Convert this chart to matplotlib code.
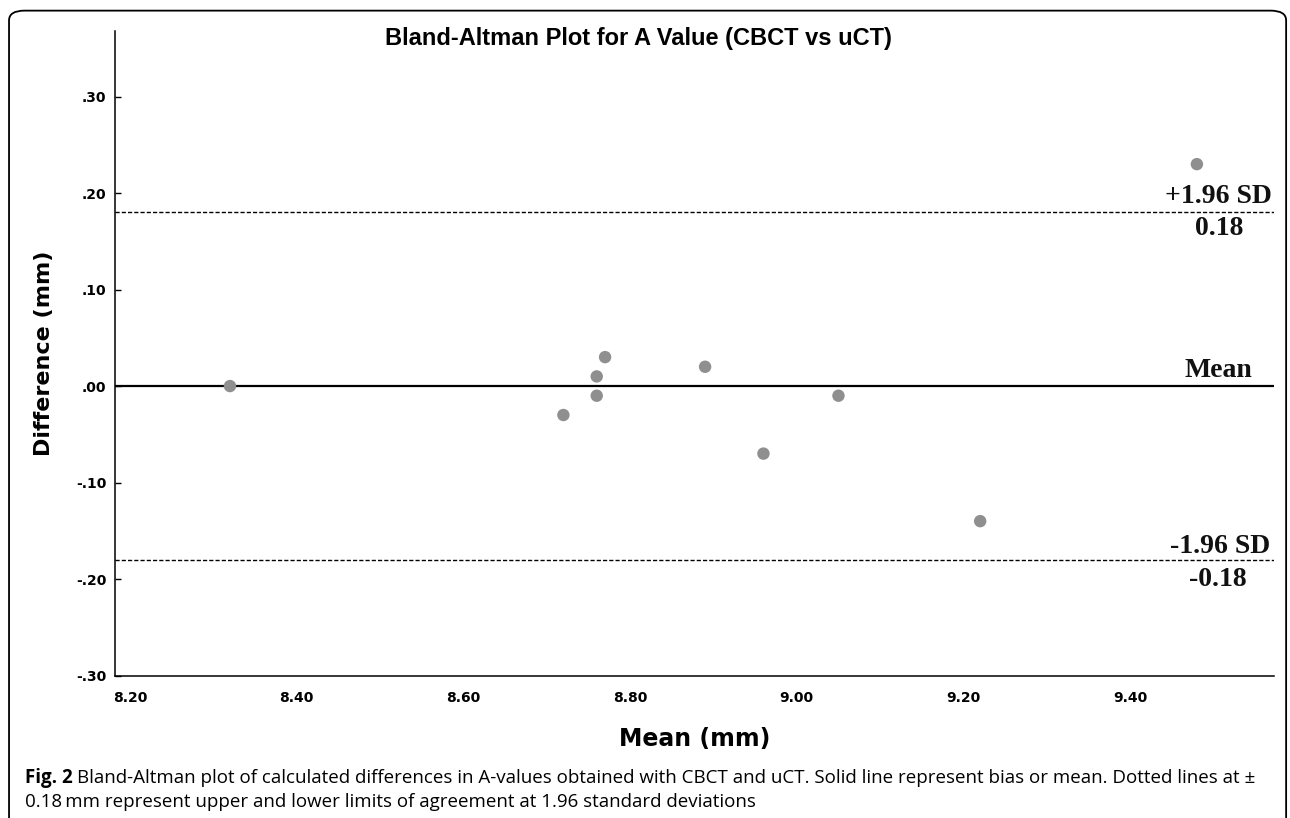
import matplotlib
matplotlib.use('Agg')
import matplotlib.pyplot as plt
from matplotlib.patches import FancyBboxPatch
import numpy as np

# Bland-Altman data
mean_mm = [8.32, 8.72, 8.76, 8.76, 8.77, 8.89, 8.96, 9.05, 9.22, 9.48]
diff_mm = [0.00, -0.03, 0.01, -0.01, 0.03, 0.02, -0.07, -0.01, -0.14, 0.23]
bias = 0.0
upper_loa = 0.18
lower_loa = -0.18
xticks = [8.20, 8.40, 8.60, 8.80, 9.00, 9.20, 9.40]
yticks = [-0.30, -0.20, -0.10, 0.00, 0.10, 0.20, 0.30]

sans = ['Liberation Sans', 'DejaVu Sans']
wide = ['DejaVu Sans']
serif = ['Liberation Serif', 'DejaVu Serif']

fig = plt.figure(figsize=(12.9, 8.18), dpi=100)
ax = fig.add_axes([0.0891, 0.1736, 0.8985, 0.7885])

ax.scatter(mean_mm, diff_mm, s=80, color='#8f8f8f', edgecolors='none', zorder=3)
ax.axhline(bias, color='black', lw=1.6, zorder=2)
ax.axhline(upper_loa, color='black', lw=1.0, ls=(0, (3, 1.5)), zorder=2)
ax.axhline(lower_loa, color='black', lw=1.0, ls=(0, (3, 1.5)), zorder=2)

ax.set_xlim(8.182, 9.5725)
ax.set_ylim(-0.3005, 0.368)
ax.set_xticks(xticks)
ax.set_yticks(yticks)
ax.set_xticklabels([f'{v:.2f}' for v in xticks], fontfamily=wide, fontweight='bold', fontsize=10)
ax.set_yticklabels([f'{v:.2f}'.replace('0.', '.') for v in yticks], fontfamily=wide, fontweight='bold', fontsize=10)
ax.tick_params(axis='y', direction='in', length=4, width=1, pad=6)
ax.tick_params(axis='x', length=0, pad=11)

for side in ['top', 'right']:
    ax.spines[side].set_visible(False)
for side in ['left', 'bottom']:
    ax.spines[side].set_linewidth(1.1)

fig.text(0.495, 0.945, 'Bland-Altman Plot for A Value (CBCT vs uCT)', fontfamily=sans,
         fontweight='bold', fontsize=17, ha='center', va='baseline')
ax.set_xlabel('Mean (mm)', fontfamily=wide, fontweight='bold', fontsize=17, labelpad=16)
ax.set_ylabel('Difference (mm)', fontfamily=wide, fontweight='bold', fontsize=16, labelpad=16)

# limit labels on the right
kw = dict(fontfamily=serif, fontweight='bold', fontsize=20, color='#111111', va='baseline')
ax.text(9.570, 0.1896, '+1.96 SD', ha='right', **kw)
ax.text(9.5065, 0.1565, f'{upper_loa:.2f}', ha='center', **kw)
ax.text(9.547, 0.0093, 'Mean', ha='right', **kw)
ax.text(9.568, -0.173, '-1.96 SD', ha='right', **kw)
ax.text(9.505, -0.2073, f'{lower_loa:.2f}', ha='center', **kw)

# rounded frame around the figure
frame = FancyBboxPatch((0.007, -0.05), 0.99, 1.037, boxstyle='round,pad=0,rounding_size=0.012',
                       transform=fig.transFigure, fill=False, lw=1.3, ec='black')
fig.patches.append(frame)

cap_font = ['Open Sans', 'DejaVu Sans']
cap_size = 13.5
cap_x = 0.019
lead = fig.text(cap_x, 0.043, 'Fig. 2 ', fontfamily=cap_font, fontweight='bold', fontsize=cap_size,
                va='baseline')
renderer = fig.canvas.get_renderer()
bb = lead.get_window_extent(renderer=renderer)
x_next = bb.x1 / fig.bbox.width
fig.text(x_next, 0.043,
         'Bland-Altman plot of calculated differences in A-values obtained with CBCT and uCT. '
         'Solid line represent bias or mean. Dotted lines at \u00b1',
         fontfamily=cap_font, fontsize=cap_size, va='baseline')
fig.text(cap_x, 0.0135, '0.18\u2009mm represent upper and lower limits of agreement at 1.96 standard deviations',
         fontfamily=cap_font, fontsize=cap_size, va='baseline')

fig.savefig('out.png', dpi=100)
